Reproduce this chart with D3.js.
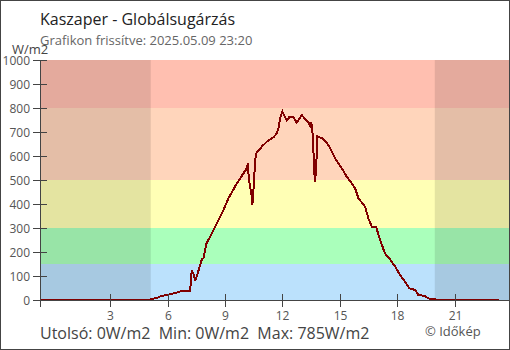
<!DOCTYPE html>
<html><head><meta charset="utf-8">
<script src="https://cdn.jsdelivr.net/npm/d3@7"></script>
<style>body{margin:0;background:#fff}svg{display:block}text{font-family:"Open Sans",sans-serif;white-space:pre}</style>
</head><body><svg id="c" width="510" height="350"></svg>
<script>
// data: hours (negative = previous day), global radiation W/m2
const hours = [-0.667,5.09,5.14,5.49,5.61,5.96,6.40,6.78,7.18,7.26,7.30,7.39,7.44,7.61,7.79,7.88,8.02,8.31,8.40,8.84,9.18,9.62,10.14,10.19,10.25,10.40,10.43,10.52,10.57,10.63,10.92,11.19,11.53,11.71,11.79,11.88,12.00,12.23,12.35,12.57,12.75,13.01,13.19,13.36,13.45,13.51,13.57,13.62,13.67,13.69,13.76,13.80,13.83,14.06,14.32,14.49,14.75,15.10,15.36,15.62,15.80,15.97,16.32,16.49,16.67,16.89,17.10,17.36,17.62,17.89,18.15,18.41,18.63,18.93,19.10,19.45,19.62,19.89,20.32,23.33];
const values = [0,0,3,10,15,21,29,39,39,125,118,100,79,121,170,175,233,278,292,361,424,486,549,569,500,431,396,500,576,611,639,660,678,694,715,757,785,747,761,761,739,771,753,739,726,740,697,618,535,490,542,632,681,674,655,633,590,549,514,486,465,424,389,340,306,306,250,194,170,139,104,76,49,42,21,17,7,3,0,0];
const bandLimits = [0,150,300,500,800,1000];
const bandColors = ["#bbe1fc","#aaffbb","#ffffb5","#ffd5bb","#ffbfb0"];
const yTicks = [0,100,200,300,400,500,600,700,800,900,1000];
const xTicks = [3,6,9,12,15,18,21];
const nights = [[-0.667,5.12],[19.96,23.9]];
const title = "Kaszaper - Globálsugárzás";
const subtitle = "Grafikon frissítve: 2025.05.09 23:20";
const footer = "Utolsó: 0W/m2  Min: 0W/m2  Max: 785W/m2";

const svg = d3.select("#c");
const L=40,R=510,T=60,B=300;
const x = d3.scaleLinear().domain([-0.667,23.89]).range([L,R]);
const y = d3.scaleLinear().domain([0,1000]).range([B,T]);

// bands
for(let i=0;i<bandColors.length;i++){
  svg.append("rect").attr("x",L).attr("width",R-L)
    .attr("y",y(bandLimits[i+1])).attr("height",y(bandLimits[i])-y(bandLimits[i+1]))
    .attr("fill",bandColors[i]);
}
// night shading
nights.forEach(n=>{
  svg.append("rect").attr("x",x(n[0])).attr("width",Math.min(R,x(n[1]))-x(n[0]))
    .attr("y",T).attr("height",B-T).attr("fill","#000").attr("fill-opacity",0.105);
});

// line
const line = d3.line().x((d,i)=>x(hours[i])).y(d=>y(d));
svg.append("path").datum(values).attr("d",line).attr("fill","none")
  .attr("stroke","#800000").attr("stroke-width",2).attr("shape-rendering","crispEdges");

// axes
const axCol="#444";
svg.append("line").attr("x1",L+0.5).attr("x2",L+0.5).attr("y1",T).attr("y2",B+7).attr("stroke",axCol);
svg.append("line").attr("x1",L).attr("x2",R).attr("y1",B+0.5).attr("y2",B+0.5).attr("stroke",axCol);
yTicks.forEach(t=>{
  const yy=Math.round(y(t))+0.5;
  svg.append("line").attr("x1",L-7).attr("x2",L+7).attr("y1",yy).attr("y2",yy).attr("stroke",axCol);
  svg.append("text").attr("x",L-10).attr("y",yy+4).attr("text-anchor","end")
    .attr("font-size",12).attr("fill","#555").text(t);
});
xTicks.forEach(t=>{
  const xx=Math.round(x(t))+0.5;
  svg.append("line").attr("x1",xx).attr("x2",xx).attr("y1",B-6).attr("y2",B+7).attr("stroke",axCol);
  svg.append("text").attr("x",xx).attr("y",320).attr("text-anchor","middle")
    .attr("font-size",12).attr("fill","#555").text(t);
});

// texts
svg.append("text").attr("x",40).attr("y",25).attr("font-size",16).attr("fill","#222").text(title);
svg.append("text").attr("x",40).attr("y",45).attr("font-size",13).attr("fill","#666").text(subtitle);
svg.append("text").attr("x",12).attr("y",54).attr("font-size",13).attr("fill","#444").text("W/m2");
svg.append("text").attr("x",40).attr("y",339).attr("font-size",16).attr("fill","#444")
  .attr("xml:space","preserve").text(footer);
svg.append("text").attr("x",425).attr("y",336).attr("font-size",13).attr("fill","#555").text("© Időkép");

// frame
svg.append("rect").attr("x",0.5).attr("y",0.5).attr("width",509).attr("height",349)
  .attr("fill","none").attr("stroke","#444");
</script></body></html>
